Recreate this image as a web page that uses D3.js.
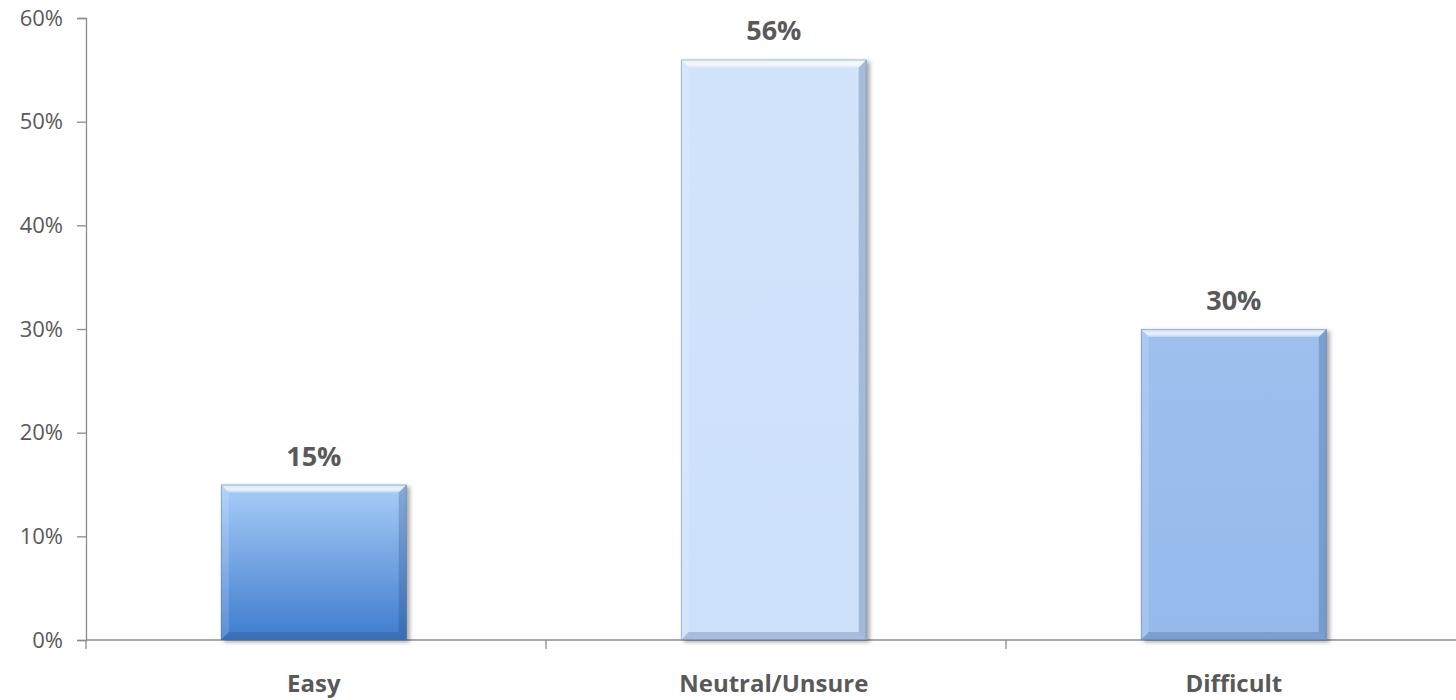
<!DOCTYPE html>
<html>
<head>
<meta charset="utf-8">
<script src="https://cdn.jsdelivr.net/npm/d3@7"></script>
<style>
  html, body { margin: 0; padding: 0; background: #fff; }
  svg { display: block; }
</style>
</head>
<body>
<svg id="chart" width="1456" height="700"></svg>
<script>
// Survey responses: share of respondents per answer
const categories = ["Easy", "Neutral/Unsure", "Difficult"];
const values = [15, 56, 30];
const yTicks = [0, 10, 20, 30, 40, 50, 60];
const barTop = ["#a9cdf8", "#d2e4fb", "#9dc0ef"];
const barBottom = ["#3e7ccd", "#cde0fa", "#95b9eb"];

const svg = d3.select("#chart");
const margin = { left: 86, top: 18 };
const bandW = 460;

const x = d3.scaleBand()
  .domain(categories)
  .range([margin.left, margin.left + bandW * categories.length])
  .paddingInner(0.596)
  .paddingOuter(0.298)
  .align(0.492);

const y = d3.scaleLinear().domain([0, 60]).range([640, margin.top]);

const defs = svg.append("defs");
categories.forEach((c, i) => {
  const g = defs.append("linearGradient")
    .attr("id", "fill" + i).attr("x1", 0).attr("y1", 0).attr("x2", 0).attr("y2", 1);
  g.append("stop").attr("offset", "0%").attr("stop-color", barTop[i]);
  g.append("stop").attr("offset", "100%").attr("stop-color", barBottom[i]);
});
const topBev = defs.append("linearGradient")
  .attr("id", "topBev").attr("x1", 0).attr("y1", 0).attr("x2", 0).attr("y2", 1);
topBev.append("stop").attr("offset", "0%").attr("stop-color", "#ffffff").attr("stop-opacity", 0.45);
topBev.append("stop").attr("offset", "60%").attr("stop-color", "#ffffff").attr("stop-opacity", 0.8);
topBev.append("stop").attr("offset", "100%").attr("stop-color", "#ffffff").attr("stop-opacity", 0.3);
const sh = defs.append("filter").attr("id", "shadow")
  .attr("x", "-10%").attr("y", "-10%").attr("width", "130%").attr("height", "130%");
sh.append("feDropShadow").attr("dx", 3).attr("dy", 2).attr("stdDeviation", 2)
  .attr("flood-color", "#000").attr("flood-opacity", 0.35);

// Axes
const axisColor = "#8c8c8c";
const textColor = "#595959";
const font = "'Open Sans', 'Liberation Sans', sans-serif";

const yAxis = svg.append("g")
  .attr("transform", `translate(${margin.left},0)`)
  .call(d3.axisLeft(y).tickValues(yTicks).tickSize(9).tickPadding(14).tickFormat(d => d + "%"));
yAxis.select(".domain").attr("stroke", axisColor).attr("stroke-width", 1.3);
yAxis.selectAll(".tick line").attr("stroke", axisColor).attr("stroke-width", 1.3);
yAxis.selectAll(".tick text").attr("fill", textColor).attr("font-family", font).attr("font-size", 22);

const xAxisG = svg.append("g").attr("transform", "translate(0,640)");
xAxisG.append("line")
  .attr("x1", margin.left).attr("x2", 1456)
  .attr("stroke", axisColor).attr("stroke-width", 1.3);
const boundaries = d3.range(categories.length + 1).map(i => margin.left + i * bandW);
xAxisG.selectAll("line.tk").data(boundaries).enter().append("line")
  .attr("class", "tk")
  .attr("x1", d => d).attr("x2", d => d).attr("y1", 0).attr("y2", 9)
  .attr("stroke", axisColor).attr("stroke-width", 1.3);
xAxisG.selectAll("text").data(categories).enter().append("text")
  .attr("x", d => x(d) + x.bandwidth() / 2)
  .attr("y", 52)
  .attr("text-anchor", "middle")
  .attr("fill", textColor).attr("font-family", font)
  .attr("font-weight", "bold").attr("font-size", 24)
  .text(d => d);

// Bars with bevelled edges
const bev = 8;
const bars = svg.append("g").selectAll("g.bar").data(categories).enter()
  .append("g").attr("class", "bar");

bars.each(function (c, i) {
  const g = d3.select(this);
  const x0 = x(c), w = x.bandwidth();
  const y0 = y(values[i]), y1 = y(0), h = y1 - y0;
  g.append("rect").attr("x", x0).attr("y", y0).attr("width", w).attr("height", h)
    .attr("fill", `url(#fill${i})`).attr("filter", "url(#shadow)");
  // top bevel
  g.append("path")
    .attr("d", `M${x0},${y0}H${x0 + w}L${x0 + w - bev},${y0 + bev}H${x0 + bev}Z`)
    .attr("fill", "url(#topBev)");
  // left bevel
  g.append("path")
    .attr("d", `M${x0},${y0}L${x0 + bev},${y0 + bev}V${y1 - bev}L${x0},${y1}Z`)
    .attr("fill", "#ffffff").attr("opacity", 0.15);
  // right bevel
  g.append("path")
    .attr("d", `M${x0 + w},${y0}L${x0 + w - bev},${y0 + bev}V${y1 - bev}L${x0 + w},${y1}Z`)
    .attr("fill", "#1f3f6e").attr("opacity", 0.25);
  // bottom bevel
  g.append("path")
    .attr("d", `M${x0},${y1}L${x0 + bev},${y1 - bev}H${x0 + w - bev}L${x0 + w},${y1}Z`)
    .attr("fill", "#1f3f6e").attr("opacity", 0.22);
  // outline
  g.append("rect").attr("x", x0 + 0.5).attr("y", y0 + 0.5).attr("width", w - 1).attr("height", h - 1)
    .attr("fill", "none").attr("stroke", "#4a6d9c").attr("stroke-opacity", 0.4);

  g.append("text")
    .attr("x", x0 + w / 2).attr("y", y0 - 19)
    .attr("text-anchor", "middle")
    .attr("fill", textColor).attr("font-family", font)
    .attr("font-weight", "bold").attr("font-size", 27)
    .text(values[i] + "%");
});
</script>
</body>
</html>
